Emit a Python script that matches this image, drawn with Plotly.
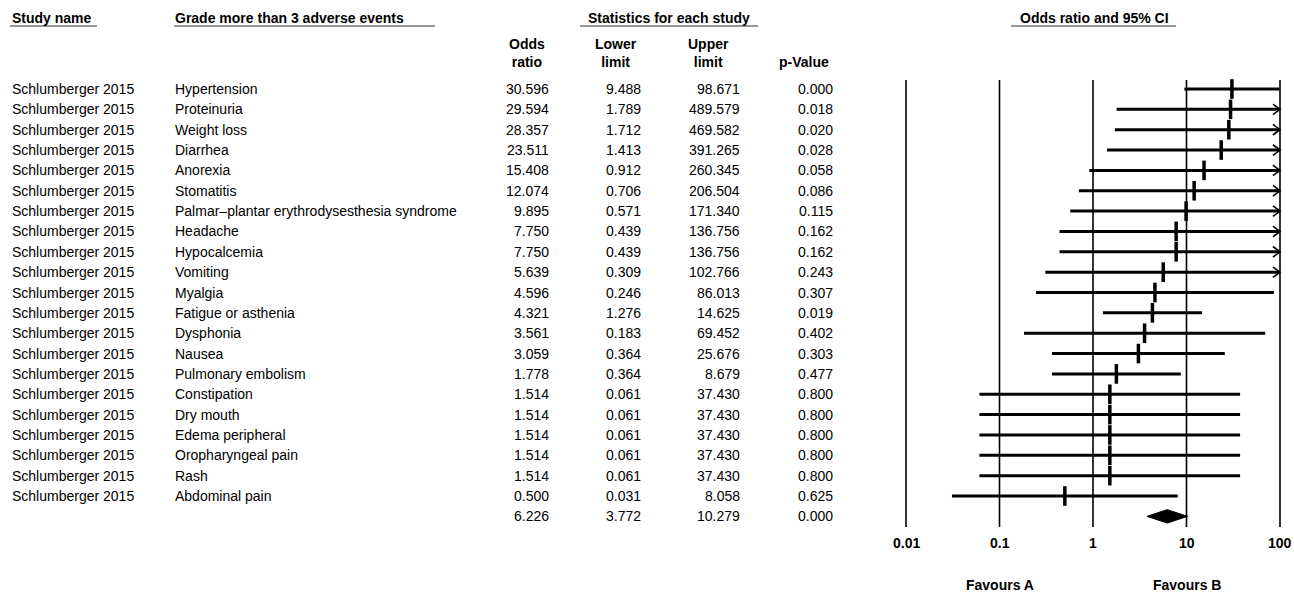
import math
import plotly.graph_objects as go

# ---- data -------------------------------------------------------------
study = ["Schlumberger 2015"] * 21
events = [
    "Hypertension", "Proteinuria", "Weight loss", "Diarrhea", "Anorexia",
    "Stomatitis", "Palmar–plantar erythrodysesthesia syndrome", "Headache",
    "Hypocalcemia", "Vomiting", "Myalgia", "Fatigue or asthenia", "Dysphonia",
    "Nausea", "Pulmonary embolism", "Constipation", "Dry mouth",
    "Edema peripheral", "Oropharyngeal pain", "Rash", "Abdominal pain",
]
odds_ratio = [30.596, 29.594, 28.357, 23.511, 15.408, 12.074, 9.895, 7.750,
              7.750, 5.639, 4.596, 4.321, 3.561, 3.059, 1.778, 1.514, 1.514,
              1.514, 1.514, 1.514, 0.500]
lower = [9.488, 1.789, 1.712, 1.413, 0.912, 0.706, 0.571, 0.439, 0.439,
         0.309, 0.246, 1.276, 0.183, 0.364, 0.364, 0.061, 0.061, 0.061,
         0.061, 0.061, 0.031]
upper = [98.671, 489.579, 469.582, 391.265, 260.345, 206.504, 171.340,
         136.756, 136.756, 102.766, 86.013, 14.625, 69.452, 25.676, 8.679,
         37.430, 37.430, 37.430, 37.430, 37.430, 8.058]
p_value = [0.000, 0.018, 0.020, 0.028, 0.058, 0.086, 0.115, 0.162, 0.162,
           0.243, 0.307, 0.019, 0.402, 0.303, 0.477, 0.800, 0.800, 0.800,
           0.800, 0.800, 0.625]

pooled_or, pooled_lo, pooled_hi, pooled_p = 6.226, 3.772, 10.279, 0.000

tick_values = [0.01, 0.1, 1, 10, 100]
tick_labels = ["0.01", "0.1", "1", "10", "100"]

# ---- layout helpers ---------------------------------------------------
W, H = 1294, 594
FONT = "Arial, Liberation Sans, sans-serif"
FS = 14
X_MAX = 100.0


def px(x):
    return x / W


def py(y):
    return 1 - y / H


fig = go.Figure()

# CI lines, clipped at the axis limit
line_x, line_y = [], []
chev_x, chev_y = [], []
for i, (lo, hi) in enumerate(zip(lower, upper)):
    line_x += [lo, min(hi, X_MAX), None]
    line_y += [i, i, None]
    if hi > X_MAX:
        back = X_MAX * 0.84
        chev_x += [back, X_MAX, back, None]
        chev_y += [i - 0.26, i, i + 0.26, None]

fig.add_trace(go.Scatter(x=line_x, y=line_y, mode="lines",
                         line=dict(color="black", width=3),
                         hoverinfo="skip", showlegend=False))
fig.add_trace(go.Scatter(x=chev_x, y=chev_y, mode="lines",
                         line=dict(color="black", width=1.6),
                         hoverinfo="skip", showlegend=False))

# point estimates
fig.add_trace(go.Scatter(x=odds_ratio, y=list(range(len(odds_ratio))),
                         mode="markers",
                         marker=dict(symbol="line-ns", size=14,
                                     line=dict(color="black", width=3.5)),
                         showlegend=False))

# pooled diamond
s = len(odds_ratio)
fig.add_trace(go.Scatter(
    x=[pooled_lo, pooled_or, pooled_hi, pooled_or, pooled_lo],
    y=[s, s - 0.33, s, s + 0.33, s],
    mode="lines", fill="toself", fillcolor="black",
    line=dict(color="black", width=1), showlegend=False))

shapes = []
# vertical reference lines
for v in tick_values:
    shapes.append(dict(type="line", xref="x", yref="paper",
                       x0=v, x1=v, y0=py(80), y1=py(527),
                       line=dict(color="black", width=1.6), layer="below"))

# header underlines
for x0, x1 in [(10, 97), (174, 435), (580, 758), (1011, 1176)]:
    shapes.append(dict(type="line", xref="paper", yref="paper",
                       x0=px(x0), x1=px(x1), y0=py(26), y1=py(26),
                       line=dict(color="#333333", width=1.2)))

ann = []
PAD = 2  # annotation box padding


def text(x, y, s, anchor="left", bold=False, xref="paper", yref="paper"):
    if xref == "paper":
        shift = {"left": -PAD, "right": PAD, "center": 0}[anchor]
        x = px(x + shift)
    else:
        x = math.log10(x)
    ann.append(dict(x=x, y=y, xref=xref, yref=yref, text=s, showarrow=False,
                    xanchor=anchor, yanchor="middle", align="center",
                    font=dict(family=FONT, size=FS, color="black",
                              weight="bold" if bold else "normal")))


# column headers
text(12, py(18), "Study name", bold=True)
text(175, py(18), "Grade more than 3 adverse events", bold=True)
text(669, py(18), "Statistics for each study", "center", bold=True)
text(1094, py(18), "Odds ratio and 95% CI", "center", bold=True)
text(527, py(53), "Odds<br>ratio", "center", bold=True)
text(616, py(53), "Lower<br>limit", "center", bold=True)
text(708, py(53), "Upper<br>limit", "center", bold=True)
text(804, py(62), "p-Value", "center", bold=True)

# table rows
for i in range(len(events)):
    text(12, i, study[i], yref="y")
    text(175, i, events[i], yref="y")
    text(549, i, f"{odds_ratio[i]:.3f}", "right", yref="y")
    text(641, i, f"{lower[i]:.3f}", "right", yref="y")
    text(740, i, f"{upper[i]:.3f}", "right", yref="y")
    text(833, i, f"{p_value[i]:.3f}", "right", yref="y")

text(549, s, f"{pooled_or:.3f}", "right", yref="y")
text(641, s, f"{pooled_lo:.3f}", "right", yref="y")
text(740, s, f"{pooled_hi:.3f}", "right", yref="y")
text(833, s, f"{pooled_p:.3f}", "right", yref="y")

# axis tick labels and favour captions
for v, lab in zip(tick_values, tick_labels):
    text(v, py(543), lab, "center", bold=True, xref="x")
text(0.1, py(585), "Favours A", "center", bold=True, xref="x")
text(10, py(585), "Favours B", "center", bold=True, xref="x")

# log axis: 0.01 at x=906 px, 100 at x=1280 px
decade = (1280 - 906) / 4
x_lo = -2 - 906 / decade
x_hi = 2 + (W - 1280) / decade
row = (496 - 89) / 20
y_top = -89 / row
y_bot = (H - 89) / row

fig.update_layout(
    width=W, height=H, margin=dict(l=0, r=0, t=0, b=0),
    paper_bgcolor="white", plot_bgcolor="white",
    xaxis=dict(type="log", range=[x_lo, x_hi], visible=False, domain=[0, 1]),
    yaxis=dict(range=[y_bot, y_top], visible=False, domain=[0, 1]),
    shapes=shapes, annotations=ann, showlegend=False,
)

fig.write_html("out.html")
